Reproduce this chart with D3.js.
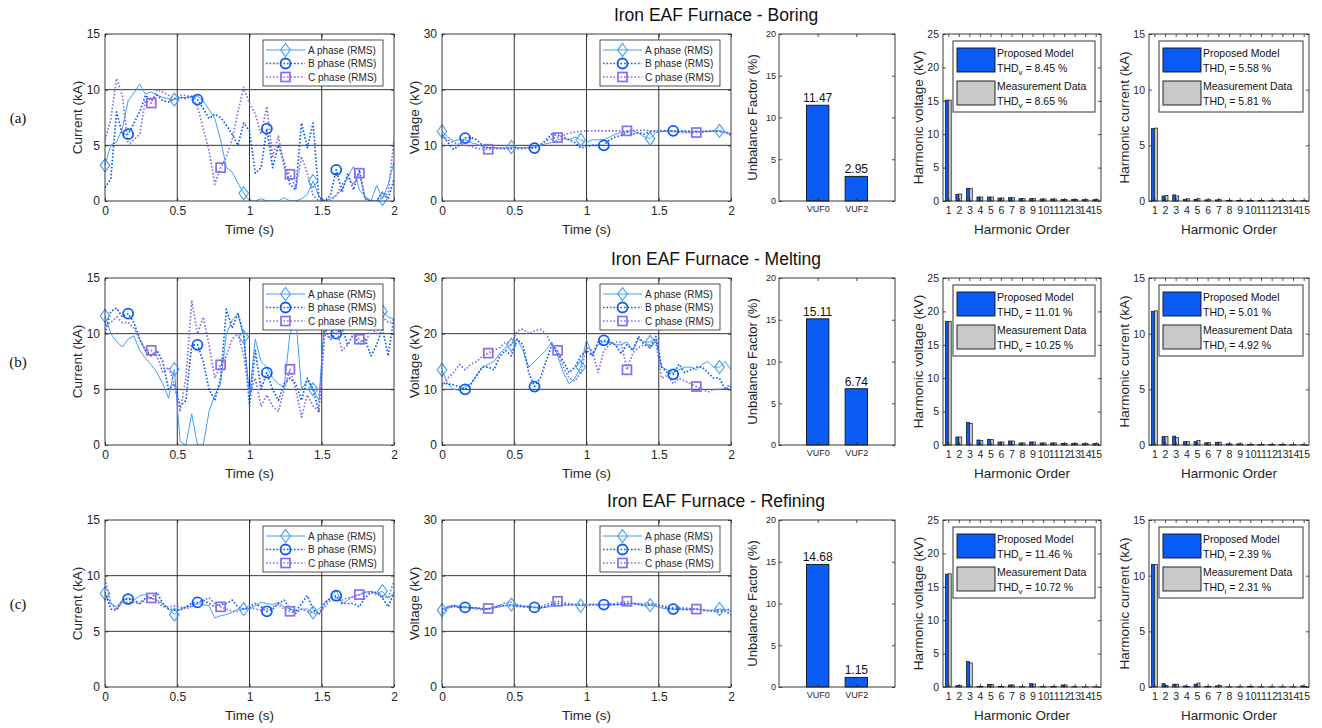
<!DOCTYPE html>
<html>
<head>
<meta charset="utf-8">
<script src="https://cdn.jsdelivr.net/npm/d3@7"></script>
<style>
  body { margin: 0; background: #fff; }
  svg { display: block; }
</style>
</head>
<body>
<svg id="fig" width="1322" height="728"></svg>
<script>
// ---------- sample times (s) ----------
const time = [0,0.04,0.08,0.12,0.16,0.2,0.24,0.28,0.32,0.36,0.4,0.44,0.48,0.52,0.56,0.6,0.64,0.68,0.72,0.76,
  0.8,0.84,0.88,0.92,0.96,1.0,1.04,1.08,1.12,1.16,1.2,1.24,1.28,1.32,1.36,1.4,1.44,1.48,1.52,1.56,
  1.6,1.64,1.68,1.72,1.76,1.8,1.84,1.88,1.92,1.96,2.0];

// ---------- boring stage: RMS current (kA) ----------
const boringCurA = [3.2,5.0,5.3,6.5,9.0,9.7,10.5,9.6,9.8,9.5, 9.3,9.2,9.1,9.3,9.3,9.4,9.4,9.0,8.2,7.4,
  5.5,3.0,2.6,1.6,0.7,0.0,0.0,0.2,0.0,0.0, 0.0,0.3,0.0,0.0,0.2,0.6,1.8,0.4,0.0,0.2, 0.5,1.0,2.2,3.1,1.0,0.4,0.0,1.4,0.2,1.5, 3.5];
const boringCurB = [1.2,2.0,8.0,6.0,6.0,7.0,8.0,9.5,9.0,9.5, 9.0,8.9,9.2,9.3,9.2,9.4,9.1,8.3,7.4,7.8,
  7.5,6.8,6.0,5.0,7.0,6.3,2.5,3.0,6.5,3.0, 5.0,3.5,1.5,1.0,7.0,4.8,7.0,0.3,0.0,0.5, 2.8,0.8,2.5,1.0,2.8,0.2,0.0,0.0,0.8,0.2, 2.0];
const boringCurC = [5.5,7.3,11.0,9.5,5.0,5.5,6.0,9.0,8.8,10.0, 9.8,9.5,9.2,9.5,9.5,9.3,8.5,6.5,4.5,1.5,
  3.0,4.0,5.5,8.0,10.2,8.8,7.8,6.0,8.5,4.0, 5.8,3.0,2.4,1.2,4.0,2.5,0.5,0.0,0.0,0.0, 0.5,1.5,2.0,1.5,2.5,0.3,0.0,0.0,0.3,0.8, 5.5];
// ---------- boring stage: RMS voltage (kV) ----------
const boringVolA = [12.5,11.5,10.8,11.0,11.0,10.5,10.2,9.8,9.6,9.6, 9.5,9.5,9.7,9.6,9.6,9.6,9.7,10.0,10.3,10.5,
  11.0,11.2,11.0,11.5,11.0,10.5,11.0,11.0,11.0,11.5, 12.0,12.3,12.5,12.6,12.2,11.5,11.2,12.3,12.5,12.5, 12.5,12.5,12.4,12.4,12.5,12.5,12.5,12.5,12.6,12.4, 12.0];
const boringVolB = [12.0,10.5,9.3,10.0,11.3,11.4,11.0,10.0,9.5,9.5, 9.4,9.4,9.4,9.4,9.4,9.5,9.5,10.0,11.0,12.0,
  11.8,11.5,11.0,10.5,9.5,9.8,10.0,10.0,10.0,11.0, 11.5,11.8,12.4,12.0,12.3,12.0,12.5,12.5,12.6,12.6, 12.6,12.5,12.6,12.5,12.5,12.4,12.5,12.6,12.5,12.4, 11.8];
const boringVolC = [11.5,11.0,10.5,10.2,10.0,9.8,9.5,9.3,9.3,9.4, 9.5,9.5,9.5,9.5,9.5,9.6,9.8,10.2,10.8,11.2,
  11.4,11.8,12.2,12.4,12.5,12.6,12.6,12.6,12.6,12.6, 12.6,12.6,12.6,12.7,12.7,12.7,12.6,12.6,12.6,12.6, 12.5,12.4,12.3,12.3,12.3,12.5,12.6,12.6,12.5,12.3, 12.2];

// ---------- melting stage: RMS current (kA) ----------
const meltingCurA = [11.6,10.0,9.3,8.8,9.5,9.8,8.5,7.8,7.2,6.5, 5.5,4.2,6.8,0.3,0.0,2.8,0.0,0.0,3.0,4.5,
  5.5,10.0,11.2,11.8,9.7,4.5,9.5,7.5,7.0,6.0, 5.5,5.2,10.0,11.5,5.0,5.8,5.0,4.0,11.5,11.0, 10.3,10.5,11.0,11.0,11.0,11.2,11.5,11.5,12.0,11.5, 11.3];
const meltingCurB = [10.0,12.0,12.3,11.5,11.8,11.0,9.5,8.5,8.0,8.5, 7.5,5.0,5.5,3.5,4.0,9.0,9.0,7.5,5.0,4.0,
  6.0,12.2,10.5,11.8,10.0,3.5,8.5,5.0,6.5,5.0, 4.0,5.5,6.0,5.5,4.0,6.0,5.0,3.0,10.5,9.5, 10.0,10.5,9.0,10.0,9.0,9.5,8.0,9.0,10.5,8.0, 11.5];
const meltingCurC = [10.8,11.0,11.5,11.0,11.0,10.5,9.5,8.5,8.5,8.0, 6.5,7.0,5.5,3.0,6.0,13.0,10.0,11.5,9.0,6.0,
  7.2,8.0,9.5,10.0,8.0,4.5,6.0,3.5,4.5,3.5, 3.0,5.0,6.8,5.0,2.5,4.5,3.5,3.0,10.0,9.5, 10.5,8.5,9.0,10.0,9.5,9.0,10.5,10.0,11.5,11.0, 11.0];
// ---------- melting stage: RMS voltage (kV) ----------
const meltingVolA = [13.5,11.0,10.0,9.8,10.5,11.0,12.5,14.0,14.5,15.0, 16.5,17.5,18.0,19.0,17.0,14.0,15.0,16.0,17.0,18.5,
  16.0,13.0,11.0,12.0,14.0,19.0,16.0,18.0,18.5,18.5, 18.0,18.0,18.5,17.0,19.0,18.5,18.5,19.0,14.0,13.5, 13.0,13.5,14.0,14.0,13.5,14.5,15.0,14.0,14.0,15.0, 13.5];
const meltingVolB = [11.0,11.0,10.8,10.5,10.0,11.0,12.5,14.0,14.0,13.5, 16.0,17.0,16.0,19.0,18.0,13.0,10.5,12.0,15.0,18.0,
  16.5,15.0,13.0,14.0,16.0,17.0,16.0,18.5,18.8,18.5, 18.0,16.5,18.0,17.0,19.5,18.0,17.5,19.5,14.0,13.0, 12.7,14.5,13.0,13.5,14.0,14.0,13.0,12.0,12.0,10.0, 10.5];
const meltingVolC = [10.5,12.0,13.0,14.5,13.5,14.5,15.0,16.0,16.5,17.0, 17.5,18.5,18.0,20.5,20.8,20.0,20.5,20.8,20.0,18.0,
  17.0,14.0,12.0,11.5,13.0,17.5,17.0,13.0,17.0,18.0, 18.5,18.5,13.5,16.5,17.5,18.0,18.0,18.5,12.0,12.5, 11.0,12.0,11.5,11.0,10.5,10.0,9.5,10.0,10.0,10.2, 11.0];

// ---------- refining stage: RMS current (kA) ----------
const refiningCurA = [8.4,7.5,7.2,7.8,8.0,7.8,8.2,8.3,8.0,7.8, 7.5,7.0,6.5,7.0,7.2,7.2,7.5,7.4,7.3,6.2,
  6.4,6.5,6.7,7.0,7.0,7.0,7.3,7.6,7.5,7.4, 7.6,7.2,7.0,6.8,7.0,7.0,6.7,7.0,7.6,8.0, 8.7,7.5,7.8,8.2,8.3,8.5,8.6,8.4,8.6,8.0, 8.4];
const refiningCurB = [8.5,7.0,6.9,7.8,7.9,7.8,7.5,8.0,8.0,8.5, 7.5,7.0,6.9,6.9,7.2,7.5,7.6,7.8,7.5,7.2,
  7.4,7.5,7.8,7.2,7.0,7.2,7.5,7.2,6.8,7.0, 7.5,7.8,7.0,6.8,7.5,8.2,7.0,6.5,7.5,8.0, 8.2,7.5,7.5,7.5,7.2,8.0,8.5,8.5,8.0,7.2, 8.5];
const refiningCurC = [9.7,7.5,7.0,7.6,7.6,7.6,7.5,7.8,8.0,7.7, 7.2,7.2,7.3,7.2,7.0,7.3,7.5,7.8,8.0,7.5,
  7.2,7.0,6.8,6.8,7.0,7.2,7.0,6.9,7.0,7.2, 7.4,7.0,6.8,6.6,7.0,6.8,6.6,6.6,7.2,7.8, 8.0,7.8,8.0,8.1,8.3,8.5,8.5,8.3,8.2,8.0, 9.5];
// ---------- refining stage: RMS voltage (kV) ----------
const refiningVolA = [13.8,14.5,14.7,14.5,14.4,14.3,14.2,14.0,14.0,14.2, 14.4,14.6,14.8,14.6,14.5,14.4,14.3,14.2,14.3,14.5,
  14.6,14.7,14.7,14.8,14.6,14.7,14.8,14.8,14.8,14.8, 14.8,14.8,14.9,15.0,14.9,14.7,14.7,14.5,14.2,14.0, 14.0,14.0,14.0,14.0,14.0,13.9,13.8,13.8,14.0,13.9, 13.6];
const refiningVolB = [13.3,14.2,14.5,14.3,14.3,14.2,14.2,14.1,14.0,14.3, 14.6,14.7,14.6,14.5,14.4,14.4,14.3,14.2,14.5,14.8,
  15.0,14.9,14.8,14.8,14.8,14.8,14.8,14.8,14.8,14.8, 14.8,14.9,15.0,15.0,14.8,14.6,14.8,14.8,14.5,14.2, 14.0,14.0,13.9,13.9,14.0,13.8,13.7,13.6,13.6,13.6, 13.0];
const refiningVolC = [14.0,14.3,14.5,14.4,14.3,14.2,14.0,13.9,14.1,14.3, 14.7,15.2,15.2,14.8,14.6,14.5,14.3,14.4,14.8,15.2,
  15.4,15.2,15.0,14.8,14.8,14.8,14.8,14.8,14.8,14.9, 15.0,15.2,15.4,15.1,15.0,15.0,15.0,14.8,14.6,14.4, 14.3,14.3,14.2,14.1,14.0,13.8,13.7,13.7,13.8,13.9, 14.0];

// ---------- voltage unbalance factors (%) ----------
const vufCategories = ["VUF0", "VUF2"];
const boringVUF = [11.47, 2.95];
const meltingVUF = [15.11, 6.74];
const refiningVUF = [14.68, 1.15];

// ---------- harmonic spectra ----------
const harmonicOrders = [1,2,3,4,5,6,7,8,9,10,11,12,13,14,15];
const boringHvModel = [15.1,1.0,1.9,0.6,0.6,0.45,0.5,0.35,0.35,0.3,0.3,0.25,0.25,0.2,0.2];
const boringHvMeas  = [15.1,1.05,1.9,0.6,0.6,0.45,0.5,0.35,0.35,0.3,0.3,0.25,0.25,0.2,0.2];
const boringHiModel = [6.5,0.45,0.55,0.15,0.15,0.1,0.1,0.05,0.05,0.05,0.05,0.03,0.03,0.03,0.03];
const boringHiMeas  = [6.55,0.5,0.45,0.2,0.2,0.12,0.12,0.07,0.06,0.05,0.05,0.04,0.04,0.03,0.03];
const meltingHvModel = [18.5,1.2,3.4,0.75,0.85,0.45,0.6,0.3,0.45,0.3,0.3,0.25,0.25,0.2,0.2];
const meltingHvMeas  = [18.5,1.2,3.25,0.7,0.8,0.45,0.6,0.3,0.45,0.3,0.3,0.25,0.25,0.2,0.2];
const meltingHiModel = [12.0,0.75,0.8,0.3,0.3,0.2,0.25,0.1,0.1,0.05,0.05,0.04,0.04,0.03,0.03];
const meltingHiMeas  = [12.05,0.75,0.65,0.3,0.4,0.2,0.25,0.1,0.1,0.06,0.05,0.04,0.04,0.03,0.03];
const refiningHvModel = [16.9,0.2,3.8,0.1,0.4,0.1,0.3,0.05,0.5,0.05,0.1,0.3,0.05,0.03,0.03];
const refiningHvMeas  = [16.95,0.2,3.6,0.1,0.4,0.1,0.3,0.05,0.45,0.05,0.1,0.3,0.05,0.03,0.03];
const refiningHiModel = [11.0,0.3,0.25,0.1,0.25,0.05,0.1,0.02,0.02,0.05,0.02,0.02,0.02,0.02,0.1];
const refiningHiMeas  = [11.0,0.15,0.25,0.05,0.35,0.05,0.15,0.02,0.02,0.05,0.02,0.02,0.02,0.02,0.05];

// ---------- total harmonic distortion (%) ----------
const boringTHDv = ["8.45", "8.65"],   boringTHDi = ["5.58", "5.81"];
const meltingTHDv = ["11.01", "10.25"], meltingTHDi = ["5.01", "4.92"];
const refiningTHDv = ["11.46", "10.72"], refiningTHDi = ["2.39", "2.31"];

// ---------- tick values ----------
const timeTicks = [0, 0.5, 1, 1.5, 2];
const currentTicks = [0, 5, 10, 15];
const voltageTicks = [0, 10, 20, 30];
const vufTicks = [0, 5, 10, 15, 20];
const harmVTicks = [0, 5, 10, 15, 20, 25];
const harmITicks = [0, 5, 10, 15];

const phaseNames = ["A phase (RMS)", "B phase (RMS)", "C phase (RMS)"];
const legendNames = ["Proposed Model", "Measurement Data"];

// ---------- styling ----------
const FONT = "'Liberation Sans', Arial, Helvetica, sans-serif";
const INK = "#262626";
const PHASE_STYLE = [
  { color: "#3fa0f5", width: 1.0, dash: null, marker: "diamond" },
  { color: "#0b5cf2", width: 1.7, dash: "1.6,1.9", marker: "circle" },
  { color: "#8a6cee", width: 1.7, dash: "1.6,1.9", marker: "square" }
];
const BAR_BLUE = "#0a5cf5";
const BAR_GRAY = "#c9c9c9";

const svg = d3.select("#fig").attr("font-family", FONT);
svg.append("rect").attr("width", 1322).attr("height", 728).attr("fill", "#fff");

// ---------- helpers ----------
function styleAxis(sel, fontSize) {
  sel.select(".domain").remove();
  sel.selectAll(".tick line").attr("stroke", INK).attr("stroke-width", 0.8);
  sel.selectAll(".tick text").attr("fill", INK).attr("font-size", fontSize).attr("font-family", FONT);
}

function boxAxes(g, x, y, w, h, o) {
  const bx = g.append("g").attr("transform", `translate(0,${h})`)
    .call(d3.axisBottom(x).tickValues(o.xTicks).tickFormat(o.xFormat).tickSize(-3).tickPadding(o.xPad));
  styleAxis(bx, o.xFont);
  const tx = g.append("g")
    .call(d3.axisTop(x).tickValues(o.xTicks).tickFormat("").tickSize(-3));
  styleAxis(tx, o.xFont);
  const ly = g.append("g")
    .call(d3.axisLeft(y).tickValues(o.yTicks).tickFormat(d3.format("d")).tickSize(-3).tickPadding(o.yPad));
  styleAxis(ly, o.yFont);
  const ry = g.append("g").attr("transform", `translate(${w},0)`)
    .call(d3.axisRight(y).tickValues(o.yTicks).tickFormat("").tickSize(-3));
  styleAxis(ry, o.yFont);
  g.append("rect").attr("width", w).attr("height", h)
    .attr("fill", "none").attr("stroke", INK).attr("stroke-width", 0.9);
}

function axisLabels(g, w, h, xText, yText, yOffset, fontSize) {
  if (xText) {
    g.append("text").attr("x", w / 2).attr("y", h + 28)
      .attr("text-anchor", "middle").attr("dominant-baseline", "central")
      .attr("font-size", fontSize).attr("fill", INK).text(xText);
  }
  g.append("text")
    .attr("transform", `translate(${-yOffset},${h / 2}) rotate(-90)`)
    .attr("text-anchor", "middle").attr("dominant-baseline", "central")
    .attr("font-size", fontSize).attr("fill", INK).text(yText);
}

function drawMarker(sel, shape, cx, cy, color) {
  if (shape === "diamond") {
    sel.append("path")
      .attr("d", `M${cx},${cy - 6.5}L${cx + 4.8},${cy}L${cx},${cy + 6.5}L${cx - 4.8},${cy}Z`)
      .attr("fill", "none").attr("stroke", color).attr("stroke-width", 1.1);
  } else if (shape === "circle") {
    sel.append("circle").attr("cx", cx).attr("cy", cy).attr("r", 5)
      .attr("fill", "none").attr("stroke", color).attr("stroke-width", 1.8);
  } else {
    sel.append("rect").attr("x", cx - 4.5).attr("y", cy - 4.5).attr("width", 9).attr("height", 9)
      .attr("fill", "none").attr("stroke", color).attr("stroke-width", 1.7);
  }
}

// time-series panel with three phases
function phasePanel(x0, y0, yMax, yTicks, yLabel, phases) {
  const w = 289, h = 167;
  const g = svg.append("g").attr("transform", `translate(${x0},${y0})`);
  const x = d3.scaleLinear().domain([0, 2]).range([0, w]);
  const y = d3.scaleLinear().domain([0, yMax]).range([h, 0]);

  g.append("rect").attr("width", w).attr("height", h).attr("fill", "#fff");

  // grid
  g.append("g").selectAll("line").data(timeTicks.slice(1, -1)).join("line")
    .attr("x1", d => x(d)).attr("x2", d => x(d)).attr("y1", 0).attr("y2", h)
    .attr("stroke", "#1e1e1e").attr("stroke-width", 0.9);
  g.append("g").selectAll("line").data(yTicks.slice(1, -1)).join("line")
    .attr("x1", 0).attr("x2", w).attr("y1", d => y(d)).attr("y2", d => y(d))
    .attr("stroke", "#1e1e1e").attr("stroke-width", 0.9);

  const line = d3.line().x((d, i) => x(time[i])).y(d => y(d));
  const clipId = "clip" + x0 + "_" + y0;
  g.append("clipPath").attr("id", clipId).append("rect").attr("width", w).attr("height", h);

  phases.forEach((vals, k) => {
    const st = PHASE_STYLE[k];
    g.append("path").datum(vals).attr("d", line)
      .attr("clip-path", `url(#${clipId})`)
      .attr("fill", "none").attr("stroke", st.color).attr("stroke-width", st.width)
      .attr("stroke-dasharray", st.dash).attr("stroke-linejoin", "round");
  });
  // markers every 12 samples, phase-staggered by 4 samples
  phases.forEach((vals, k) => {
    const st = PHASE_STYLE[k];
    const mg = g.append("g");
    vals.forEach((v, i) => {
      if (i % 12 === k * 4) drawMarker(mg, st.marker, x(time[i]), y(v), st.color);
    });
  });

  boxAxes(g, x, y, w, h, {
    xTicks: timeTicks, xFormat: d3.format(""), xPad: 5, xFont: 12,
    yTicks: yTicks, yPad: 5, yFont: 12
  });
  axisLabels(g, w, h, "Time (s)", yLabel, 28, 13.5);

  // legend
  const lw = 120, lh = 46;
  const lg = g.append("g").attr("transform", `translate(${w - 11 - lw},6)`);
  lg.append("rect").attr("width", lw).attr("height", lh)
    .attr("fill", "#fff").attr("stroke", INK).attr("stroke-width", 0.8);
  phaseNames.forEach((name, k) => {
    const st = PHASE_STYLE[k];
    const yy = 10 + k * 13.5;
    lg.append("line").attr("x1", 3).attr("x2", 42).attr("y1", yy).attr("y2", yy)
      .attr("stroke", st.color).attr("stroke-width", st.width).attr("stroke-dasharray", st.dash);
    drawMarker(lg, st.marker, 22.5, yy, st.color);
    lg.append("text").attr("x", 45).attr("y", yy).attr("dominant-baseline", "central")
      .attr("font-size", 10).attr("fill", INK).text(name);
  });
}

// unbalance factor bar panel
function vufPanel(x0, y0, values) {
  const w = 116, h = 167;
  const g = svg.append("g").attr("transform", `translate(${x0},${y0})`);
  const x = d3.scaleLinear().domain([0, 3]).range([0, w]);
  const y = d3.scaleLinear().domain([0, 20]).range([h, 0]);
  g.append("rect").attr("width", w).attr("height", h).attr("fill", "#fff");
  const bw = 0.58;
  g.selectAll("rect.bar").data(values).join("rect").attr("class", "bar")
    .attr("x", (d, i) => x(i + 1 - bw / 2)).attr("width", x(bw) - x(0))
    .attr("y", d => y(d)).attr("height", d => y(0) - y(d))
    .attr("fill", BAR_BLUE).attr("stroke", "#111").attr("stroke-width", 0.9);
  g.selectAll("text.val").data(values).join("text").attr("class", "val")
    .attr("x", (d, i) => x(i + 1)).attr("y", d => y(d) - 3)
    .attr("text-anchor", "middle").attr("font-size", 12).attr("fill", "#111")
    .text(d => d.toFixed(2));
  boxAxes(g, x, y, w, h, {
    xTicks: [1, 2], xFormat: d => vufCategories[d - 1], xPad: 5, xFont: 9,
    yTicks: vufTicks, yPad: 3, yFont: 9
  });
  axisLabels(g, w, h, null, "Unbalance Factor (%)", 27, 13);
}

// harmonic spectrum panel with proposed model vs measurement
function harmonicPanel(x0, y0, w, yMax, yTicks, yLabel, model, meas, thd, sub) {
  const h = 167;
  const g = svg.append("g").attr("transform", `translate(${x0},${y0})`);
  const x = d3.scaleLinear().domain([0.5, 15.5]).range([0, w]);
  const y = d3.scaleLinear().domain([0, yMax]).range([h, 0]);
  g.append("rect").attr("width", w).attr("height", h).attr("fill", "#fff");
  const bw = 0.28;
  g.append("g").selectAll("rect").data(model).join("rect")
    .attr("x", (d, i) => x(harmonicOrders[i] - bw)).attr("width", x(bw) - x(0))
    .attr("y", d => y(d)).attr("height", d => y(0) - y(d))
    .attr("fill", BAR_BLUE).attr("stroke", "#111").attr("stroke-width", 0.7);
  g.append("g").selectAll("rect").data(meas).join("rect")
    .attr("x", (d, i) => x(harmonicOrders[i])).attr("width", x(bw) - x(0))
    .attr("y", d => y(d)).attr("height", d => y(0) - y(d))
    .attr("fill", BAR_GRAY).attr("stroke", "#111").attr("stroke-width", 0.7);
  boxAxes(g, x, y, w, h, {
    xTicks: harmonicOrders, xFormat: d3.format("d"), xPad: 6, xFont: 10.5,
    yTicks: yTicks, yPad: 4, yFont: 10.5
  });
  axisLabels(g, w, h, "Harmonic Order", yLabel, 25, 13.5);

  // legend
  const lw = w - 16, lh = 71;
  const lg = g.append("g").attr("transform", "translate(10,7)");
  lg.append("rect").attr("width", lw).attr("height", lh)
    .attr("fill", "#fff").attr("stroke", "#555").attr("stroke-width", 1.2);
  [BAR_BLUE, BAR_GRAY].forEach((c, k) => {
    const top = 7 + k * 33;
    lg.append("rect").attr("x", 4).attr("y", top).attr("width", 38).attr("height", 24)
      .attr("fill", c).attr("stroke", "#111").attr("stroke-width", 0.9);
    lg.append("text").attr("x", 44).attr("y", top + 5).attr("dominant-baseline", "central")
      .attr("font-size", 10.5).attr("fill", "#111").text(legendNames[k]);
    const t = lg.append("text").attr("x", 44).attr("y", top + 20).attr("dominant-baseline", "central")
      .attr("font-size", 10.5).attr("fill", "#111");
    t.append("tspan").text("THD");
    t.append("tspan").attr("dy", 3.5).attr("font-size", 8).text(sub);
    t.append("tspan").attr("dy", -3.5).text(` = ${thd[k]} %`);
  });
}

// ---------- layout ----------
const rows = [
  { tag: "(a)", title: "Iron EAF Furnace - Boring", top: 34,
    cur: [boringCurA, boringCurB, boringCurC], vol: [boringVolA, boringVolB, boringVolC], vuf: boringVUF,
    hv: [boringHvModel, boringHvMeas], hi: [boringHiModel, boringHiMeas], thdv: boringTHDv, thdi: boringTHDi },
  { tag: "(b)", title: "Iron EAF Furnace - Melting", top: 278,
    cur: [meltingCurA, meltingCurB, meltingCurC], vol: [meltingVolA, meltingVolB, meltingVolC], vuf: meltingVUF,
    hv: [meltingHvModel, meltingHvMeas], hi: [meltingHiModel, meltingHiMeas], thdv: meltingTHDv, thdi: meltingTHDi },
  { tag: "(c)", title: "Iron EAF Furnace - Refining", top: 520,
    cur: [refiningCurA, refiningCurB, refiningCurC], vol: [refiningVolA, refiningVolB, refiningVolC], vuf: refiningVUF,
    hv: [refiningHvModel, refiningHvMeas], hi: [refiningHiModel, refiningHiMeas], thdv: refiningTHDv, thdi: refiningTHDi }
];

rows.forEach(r => {
  svg.append("text").attr("x", 716).attr("y", r.top - 19)
    .attr("text-anchor", "middle").attr("dominant-baseline", "central")
    .attr("font-size", 17.5).attr("fill", "#111").text(r.title);
  svg.append("text").attr("x", 18).attr("y", r.top + 84)
    .attr("text-anchor", "middle").attr("dominant-baseline", "central")
    .attr("font-family", "'Liberation Serif', 'Times New Roman', serif")
    .attr("font-size", 15).attr("fill", "#111").text(r.tag);

  phasePanel(105, r.top, 15, currentTicks, "Current (kA)", r.cur);
  phasePanel(442, r.top, 30, voltageTicks, "Voltage (kV)", r.vol);
  vufPanel(779, r.top, r.vuf);
  harmonicPanel(943, r.top, 158, 25, harmVTicks, "Harmonic voltage (kV)", r.hv[0], r.hv[1], r.thdv, "v");
  harmonicPanel(1149, r.top, 160, 15, harmITicks, "Harmonic current (kA)", r.hi[0], r.hi[1], r.thdi, "i");
});
</script>
</body>
</html>
